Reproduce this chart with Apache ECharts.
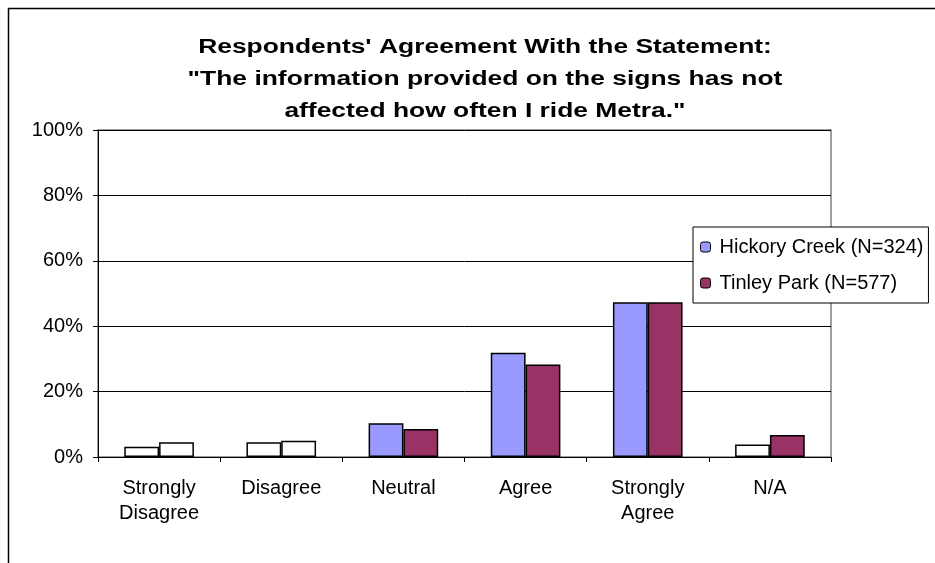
<!DOCTYPE html>
<html>
<head>
<meta charset="utf-8">
<script src="https://cdn.jsdelivr.net/npm/echarts@6/dist/echarts.min.js"></script>
<style>html,body{margin:0;padding:0;background:#fff;}#c{width:935px;height:563px;}</style>
</head>
<body>
<div id="c"></div>
<script>
var titleLines = ["Respondents' Agreement With the Statement:", "\"The information provided on the signs has not", "affected how often I ride Metra.\""];
var categories = ["Strongly\nDisagree", "Disagree", "Neutral", "Agree", "Strongly\nAgree", "N/A"];
var seriesNames = ["Hickory Creek (N=324)", "Tinley Park (N=577)"];
var hickoryCreek = [3.1, 4.5, 10.3, 31.9, 47.3, 3.8];
var tinleyPark = [4.5, 5.0, 8.6, 28.3, 47.3, 6.7];
// indices of points drawn unfilled (white) in the reference
var hickoryUnfilled = [0, 1, 5];
var tinleyUnfilled = [0, 1];
var yTicks = [0, 20, 40, 60, 80, 100];

var font = "'Liberation Sans', Arial, sans-serif";
var colors = ['#9999FF', '#993366'];

function buildData(vals, unfilled) {
  return vals.map(function (v, i) {
    return unfilled.indexOf(i) >= 0 ? { value: v, itemStyle: { color: '#FFFFFF' } } : v;
  });
}

var chart = echarts.init(document.getElementById('c'), null, { renderer: 'canvas' });
chart.setOption({
  animation: false,
  backgroundColor: '#fff',
  graphic: [{
    type: 'rect', z: -1,
    shape: { x: 8.5, y: 8.5, width: 1000, height: 700 },
    style: { fill: 'none', stroke: '#000', lineWidth: 1.5 }
  }, {
    type: 'text',
    x: 485, y: 31,
    scaleX: 1.32,
    style: {
      text: titleLines.join('\n'),
      font: "bold 20px 'Liberation Sans', Arial, sans-serif",
      fill: '#000',
      align: 'center',
      verticalAlign: 'top',
      lineHeight: 32
    }
  }],
  legend: {
    data: seriesNames,
    orient: 'vertical',
    left: 693, top: 227,
    padding: [10, 5, 10, 7],
    itemGap: 16,
    itemWidth: 10, itemHeight: 10,
    backgroundColor: '#fff',
    borderColor: '#000', borderWidth: 1,
    textStyle: { fontFamily: font, fontSize: 20, color: '#000', padding: [0, 0, 0, 4] },
    itemStyle: { borderColor: '#000', borderWidth: 1 },
    z: 10
  },
  grid: { left: 98, right: 104, top: 130, bottom: 106, show: true, borderColor: '#808080', borderWidth: 1.5 },
  xAxis: {
    type: 'category',
    data: categories,
    axisLine: { lineStyle: { color: '#000', width: 1 } },
    axisTick: { show: true, length: 5, lineStyle: { color: '#000' } },
    axisLabel: { fontFamily: font, fontSize: 20, color: '#000', lineHeight: 25, margin: 19, interval: 0 }
  },
  yAxis: {
    type: 'value',
    min: 0, max: 100, interval: 20,
    axisLine: { show: true, lineStyle: { color: '#000', width: 1 } },
    axisTick: { show: true, length: 5, lineStyle: { color: '#000' } },
    axisLabel: { fontFamily: font, fontSize: 20, color: '#000', margin: 15,
      formatter: function (v) { return yTicks.indexOf(v) >= 0 ? v + '%' : ''; } },
    splitLine: { show: true, lineStyle: { color: '#000', width: 1 } }
  },
  series: [
    {
      name: seriesNames[0], type: 'bar', data: buildData(hickoryCreek, hickoryUnfilled),
      itemStyle: { color: colors[0], borderColor: '#000', borderWidth: 1.5 },
      barGap: '0%', barCategoryGap: '43%'
    },
    {
      name: seriesNames[1], type: 'bar', data: buildData(tinleyPark, tinleyUnfilled),
      itemStyle: { color: colors[1], borderColor: '#000', borderWidth: 1.5 },
      barGap: '0%', barCategoryGap: '43%'
    }
  ]
});
</script>
</body>
</html>
